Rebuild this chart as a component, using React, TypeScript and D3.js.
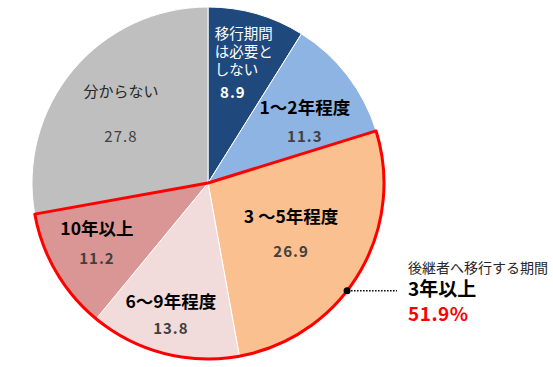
import React from 'react';
import * as d3 from 'd3';

// slice data, clockwise from 12 o'clock
const categories = ['移行期間は必要としない', '1～2年程度', '3～5年程度', '6～9年程度', '10年以上', '分からない'];
const nameLines = [['移行期間', 'は必要と', 'しない'], ['1～2年程度'], ['3 ～5年程度'], ['6～9年程度'], ['10年以上'], ['分からない']];
const values = [8.9, 11.3, 26.9, 13.8, 11.2, 27.8];
const sliceColors = ['#1F497D', '#8EB4E3', '#FAC090', '#F2DCDB', '#D99694', '#BFBFBF'];

// highlighted group (3年以上)
const highlight = ['3～5年程度', '6～9年程度', '10年以上'];
const calloutLines = ['後継者へ移行する期間', '3年以上', '51.9%'];

// label placement: fraction of radius, angle tweak (deg), gap between name and value
const labelRadius = [0.7, 0.65, 0.555, 0.78, 0.72, 0.63];
const labelShift = [-2.5, 5.4, 0.5, 1.1, 1.6, -1.7];
const labelGap = [0, 28, 35, 26, 30, 45];

const W = 553;
const H = 367;
const FONT = '"Noto Sans CJK JP", "Noto Sans", sans-serif';

export default function App() {
  const cx = 208;
  const cy = 183;
  const r = 176;

  const pie = d3.pie<number>().sort(null).value(d => d);
  const arcs = pie(values);
  const arc = d3.arc<d3.PieArcDatum<number>>().innerRadius(0).outerRadius(r);

  const hi = arcs.filter((_, i) => highlight.includes(categories[i]));
  const hiPath = d3.arc()({
    innerRadius: 0,
    outerRadius: r,
    startAngle: hi[0].startAngle,
    endAngle: hi[hi.length - 1].endAngle,
  }) as string;

  const polar = (ang: number, rad: number): [number, number] => [Math.sin(ang) * rad, -Math.cos(ang) * rad];

  // callout dot on the rim
  const dotAngle = (127.8 * Math.PI) / 180;
  const [dx, dy] = polar(dotAngle, r);

  return (
    <svg width={W} height={H} style={{ position: 'absolute', left: 0, top: 0, background: '#fff' }} fontFamily={FONT}>
      <g transform={`translate(${cx},${cy})`}>
        {arcs.map((a, i) => (
          <path key={categories[i]} d={arc(a) as string} fill={sliceColors[i]} stroke="#fff" strokeWidth={1} />
        ))}
        <path d={hiPath} fill="none" stroke="#FF0000" strokeWidth={3} strokeLinejoin="round" />

        {arcs.map((a, i) => {
          const mid = (a.startAngle + a.endAngle) / 2 + (labelShift[i] * Math.PI) / 180;
          const [lx, ly] = polar(mid, r * labelRadius[i]);
          if (i === 0) {
            return (
              <g key={categories[i]} fill="#fff">
                {nameLines[i].map((t, j) => (
                  <text key={t} x={lx - 22} y={ly - 24 + j * 18} fontSize={14.5}>
                    {t}
                  </text>
                ))}
                <text x={lx - 4} y={ly + 35} fontSize={15} fontWeight="bold" textAnchor="middle" letterSpacing={1}>
                  {values[i].toFixed(1)}
                </text>
              </g>
            );
          }
          const bold = i !== 5;
          const g = labelGap[i];
          return (
            <g key={categories[i]} textAnchor="middle">
              <text
                x={lx}
                y={ly - g / 2}
                dy="0.36em"
                fontSize={bold ? 17.5 : 15}
                fontWeight={bold ? 'bold' : 'normal'}
                fill={bold ? '#000' : '#262626'}
              >
                {nameLines[i][0]}
              </text>
              <text
                x={lx}
                y={ly + g / 2}
                dy="0.36em"
                fontSize={15}
                fontWeight={bold ? 'bold' : 'normal'}
                fill="#404040"
                letterSpacing={1}
              >
                {values[i].toFixed(1)}
              </text>
            </g>
          );
        })}

        <circle cx={dx} cy={dy} r={3.5} fill="#000" />
        <line x1={dx + 4} y1={dy} x2={189} y2={dy} stroke="#000" strokeWidth={1.5} strokeDasharray="1.5,1.5" />
      </g>

      <g>
        <text x={408} y={273} fontSize={14} fill="#262626">
          {calloutLines[0]}
        </text>
        <text x={408} y={296} fontSize={19} fontWeight="bold" fill="#000">
          {calloutLines[1]}
        </text>
        <text x={408} y={321} fontSize={19} fontWeight="bold" fill="#FF0000" letterSpacing={0.5}>
          {calloutLines[2]}
        </text>
      </g>
    </svg>
  );
}
